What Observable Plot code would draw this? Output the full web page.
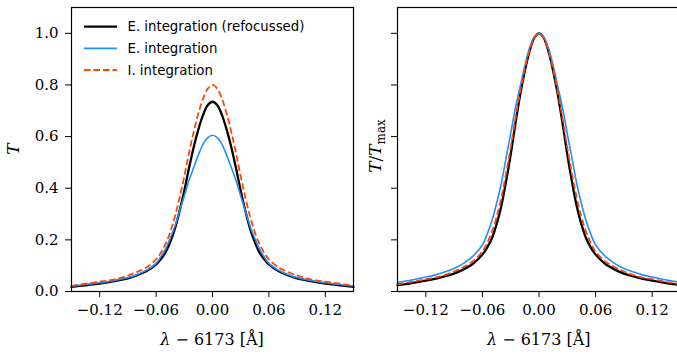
<!DOCTYPE html>
<html>
<head>
<meta charset="utf-8">
<script src="https://cdn.jsdelivr.net/npm/d3@7"></script>
<script src="https://cdn.jsdelivr.net/npm/@observablehq/plot@0.6"></script>
<style>
  html, body { margin: 0; padding: 0; background: #ffffff; }
  #chart { position: relative; width: 677px; height: 356px; overflow: hidden; background: #fff; }
  #chart svg { position: absolute; top: 0; }
</style>
</head>
<body>
<div id="chart"></div>
<script>
// wavelength offset λ − 6173 [Å]
const lambda = [-0.15,-0.135,-0.12,-0.11,-0.10,-0.09,-0.08,-0.07,-0.06,-0.055,-0.05,-0.045,-0.04,-0.035,-0.03,-0.025,-0.02,-0.015,-0.01,-0.005,
  0,
  0.005,0.01,0.015,0.02,0.025,0.03,0.035,0.04,0.045,0.05,0.055,0.06,0.07,0.08,0.09,0.10,0.11,0.12,0.135,0.15];
// E. integration (refocussed)
const refocussed = [0.018,0.024,0.031,0.036,0.043,0.051,0.063,0.079,0.105,0.125,0.151,0.191,0.243,0.312,0.390,0.478,0.559,0.628,0.684,0.722,
  0.735,
  0.722,0.684,0.628,0.559,0.478,0.390,0.312,0.243,0.191,0.151,0.125,0.105,0.079,0.063,0.051,0.043,0.036,0.031,0.024,0.018];
// E. integration
const eIntegration = [0.021,0.027,0.034,0.039,0.046,0.054,0.066,0.083,0.109,0.134,0.165,0.206,0.253,0.312,0.370,0.430,0.480,0.529,0.571,0.596,
  0.605,
  0.596,0.571,0.529,0.480,0.430,0.370,0.312,0.253,0.206,0.165,0.134,0.109,0.083,0.066,0.054,0.046,0.039,0.034,0.027,0.021];
// I. integration
const iIntegration = [0.022,0.030,0.038,0.043,0.051,0.062,0.076,0.094,0.124,0.150,0.184,0.230,0.290,0.364,0.446,0.536,0.618,0.690,0.747,0.786,
  0.800,
  0.786,0.747,0.690,0.618,0.536,0.446,0.364,0.290,0.230,0.184,0.150,0.124,0.094,0.076,0.062,0.051,0.043,0.038,0.030,0.022];

const seriesNames = ["E. integration (refocussed)", "E. integration", "I. integration"];
const xTicks = [-0.12, -0.06, 0.00, 0.06, 0.12];
const yTicks = [0.0, 0.2, 0.4, 0.6, 0.8, 1.0];

const seriesValues = [refocussed, eIntegration, iIntegration];
const styles = [
  {stroke: "#000000", strokeWidth: 2.3},
  {stroke: "#1e90ff", strokeWidth: 1.6},
  {stroke: "#ff4500", strokeWidth: 1.8, strokeDasharray: "6.5,3", strokeLinecap: "butt"}
];

function rowsFor(i, normalise) {
  const vals = seriesValues[i];
  const m = normalise ? d3.max(vals) : 1;
  return lambda.map((x, j) => ({x, y: vals[j] / m, s: seriesNames[i]}));
}

function panel(normalise, opts) {
  return Plot.plot({
    width: opts.width, height: 356,
    marginLeft: opts.marginLeft, marginRight: opts.marginRight, marginTop: 7, marginBottom: 65,
    x: {domain: [-0.15, 0.15]},
    y: {domain: [0, 1.1]},
    style: {fontFamily: "'DejaVu Serif', serif", fontSize: "15px", color: "black", background: "transparent"},
    marks: [
      ...seriesNames.map((s, i) => Plot.line(rowsFor(i, normalise), {x: "x", y: "y", curve: "catmull-rom", ...styles[i]})),
      Plot.frame({stroke: "black", strokeWidth: 1.2}),
      Plot.axisX(xTicks, {tickSize: 6, tickPadding: 7, tickFormat: d3.format(".2f"), label: null}),
      Plot.axisY(yTicks, {tickSize: 6, tickPadding: 7, tickFormat: opts.yLabels ? d3.format(".1f") : () => "", label: null})
    ]
  });
}

const chart = document.getElementById("chart");

// Left panel
const left = panel(false, {width: 360, marginLeft: 71, marginRight: 7, yLabels: true});
left.style.left = "0px";
chart.appendChild(left);

// Right panel
const right = panel(true, {width: 320, marginLeft: 37, marginRight: 0, yLabels: false});
right.style.left = "360px";
chart.appendChild(right);

// Axis labels
function xLabel(svg, cx) {
  const t = d3.select(svg).append("text")
    .attr("x", cx).attr("y", 345).attr("text-anchor", "middle")
    .attr("font-family", "'DejaVu Serif', serif").attr("font-size", 16).attr("fill", "black");
  t.append("tspan").attr("font-style", "italic").text("λ");
  t.append("tspan").text(" − 6173 [Å]");
}
xLabel(left, 212);
xLabel(right, 178.7);

d3.select(left).append("text")
  .attr("transform", "translate(19,149) rotate(-90)")
  .attr("text-anchor", "middle")
  .attr("font-family", "'DejaVu Serif', serif").attr("font-size", 17).attr("font-style", "italic")
  .attr("fill", "black").text("T");

const yl = d3.select(right).append("text")
  .attr("transform", "translate(21,146) rotate(-90)")
  .attr("text-anchor", "middle")
  .attr("font-family", "'DejaVu Serif', serif").attr("font-size", 17).attr("fill", "black");
yl.append("tspan").attr("font-style", "italic").text("T");
yl.append("tspan").text("/");
yl.append("tspan").attr("font-style", "italic").text("T");
yl.append("tspan").attr("font-size", 12).attr("dy", 4).text("max");

// Legend
const legend = d3.select(left).append("g").attr("text-anchor", "start");
const rowY = [26.7, 48.4, 70];
seriesNames.forEach((name, i) => {
  const st = styles[i];
  legend.append("line")
    .attr("x1", 84).attr("x2", 117).attr("y1", rowY[i]).attr("y2", rowY[i])
    .attr("stroke", st.stroke).attr("stroke-width", st.strokeWidth)
    .attr("stroke-dasharray", st.strokeDasharray || null)
    .attr("stroke-linecap", "butt");
  legend.append("text")
    .attr("x", 127.5).attr("y", rowY[i]).attr("dy", "0.35em")
    .attr("text-anchor", "start")
    .attr("font-family", "'DejaVu Sans', sans-serif").attr("font-size", 13.3)
    .attr("fill", "black").text(name);
});
</script>
</body>
</html>
